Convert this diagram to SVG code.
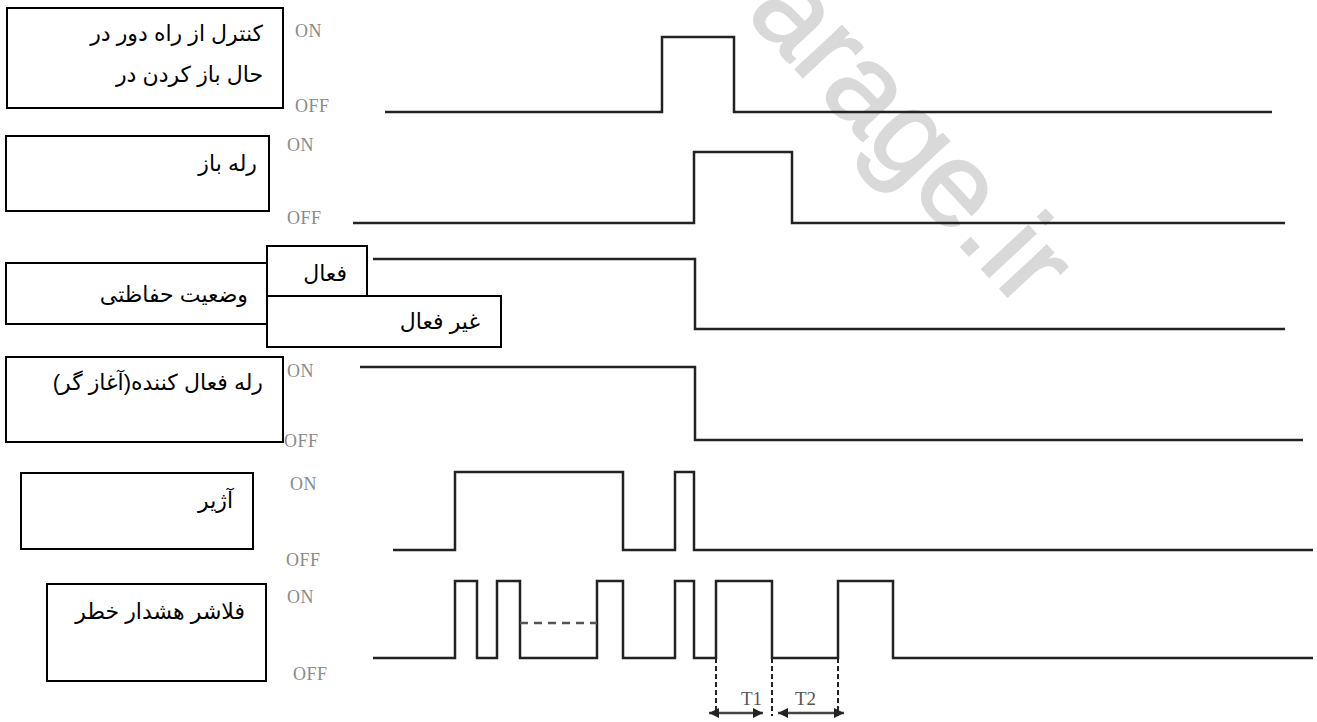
<svg xmlns="http://www.w3.org/2000/svg" width="1317" height="722" viewBox="0 0 1317 722">
<style>
.box{fill:#fff;stroke:#000;stroke-width:2}
.fa{font-family:"Liberation Sans","DejaVu Sans",sans-serif;font-size:22px;fill:#000;text-anchor:end}
.lv{font-family:"Liberation Serif","DejaVu Serif",serif;font-size:18px;letter-spacing:0.5px;fill:#8a8a8a}
.wave{fill:none;stroke:#222;stroke-width:2.5;stroke-linejoin:miter}
.dash{fill:none;stroke:#555;stroke-width:2.5;stroke-dasharray:8 6}
.vdash{fill:none;stroke:#222;stroke-width:2;stroke-dasharray:5 3}
.arr{fill:none;stroke:#444;stroke-width:2.5;marker-start:url(#ah);marker-end:url(#ah)}
.tl{font-family:"Liberation Serif","DejaVu Serif",serif;font-size:19px;fill:#555}
.wm{font-family:"Liberation Sans","DejaVu Sans",sans-serif;font-size:120px;fill:#d9d9d9;stroke:#d9d9d9;stroke-width:2;text-anchor:end}
</style>
<defs>
<marker id="ah" viewBox="0 0 10 10" refX="10" refY="5" markerWidth="5" markerHeight="4" orient="auto-start-reverse" markerUnits="strokeWidth">
<path d="M0,0 L10,5 L0,10 Z" fill="#222"/>
</marker>
</defs>
<rect width="1317" height="722" fill="#fff"/>
<text class="wm" x="1022" y="312" transform="rotate(47 1022 312)">arage.ir</text>

<g id="waveforms">
<path class="wave" d="M385,112 H662 V37 H734 V112 H1272"/>
<path class="wave" d="M353,223 H694 V152 H792 V223 H1285"/>
<path class="wave" d="M373,259 H695 V329 H1285"/>
<path class="wave" d="M360,367 H695 V440 H1303"/>
<path class="wave" d="M393,550 H455 V472 H623 V550 H675 V472 H694 V550 H1313"/>
<path class="wave" d="M373,658 H455 V581 H477 V658 H497 V581 H520 V658 H597 V581 H623 V658 H675 V581 H694 V658 H716 V581 H772 V658 H838 V581 H893 V658 H1313"/>
<path class="dash" d="M520,623 H597"/>
</g>

<g id="levels">
<text class="lv" x="295" y="37">ON</text>
<text class="lv" x="295" y="112">OFF</text>
<text class="lv" x="287" y="151">ON</text>
<text class="lv" x="287" y="224">OFF</text>
<text class="lv" x="287" y="377">ON</text>
<text class="lv" x="284" y="447">OFF</text>
<text class="lv" x="290" y="490">ON</text>
<text class="lv" x="286" y="566">OFF</text>
<text class="lv" x="287" y="603">ON</text>
<text class="lv" x="293" y="680">OFF</text>
</g>

<g id="connectors">
<path class="vdash" d="M716,658 V716"/>
<path class="vdash" d="M772,658 V716"/>
<path class="vdash" d="M838,658 V716"/>
<path class="arr" d="M709,713 H763"/>
<path class="arr" d="M778,713 H844"/>
<text class="tl" x="741" y="705">T1</text>
<text class="tl" x="795" y="705">T2</text>
</g>

<g id="node-remote">
<rect class="box" x="7" y="8" width="276" height="100"/>
<text class="fa" x="263" y="41">کنترل از راه دور در</text>
<text class="fa" x="263" y="82">حال باز کردن در</text>
</g>
<g id="node-open-relay">
<rect class="box" x="6" y="136" width="263" height="75"/>
<text class="fa" x="257" y="171">رله باز</text>
</g>
<g id="node-protection">
<rect class="box" x="6" y="263" width="270" height="61"/>
<text class="fa" x="248" y="302">وضعیت حفاظتی</text>
</g>
<g id="node-active">
<rect class="box" x="267" y="246" width="100" height="50"/>
<text class="fa" x="347" y="281">فعال</text>
</g>
<g id="node-inactive">
<rect class="box" x="267" y="296" width="234" height="51"/>
<text class="fa" x="480" y="329">غیر فعال</text>
</g>
<g id="node-trigger-relay">
<rect class="box" x="6" y="357" width="277" height="85"/>
<text class="fa" x="263" y="390">رله فعال کننده(آغاز گر)&#x200F;</text>
</g>
<g id="node-siren">
<rect class="box" x="21" y="473" width="232" height="76"/>
<text class="fa" x="233" y="508">آژیر</text>
</g>
<g id="node-flasher">
<rect class="box" x="47" y="584" width="219" height="97"/>
<text class="fa" x="245" y="619">فلاشر هشدار خطر</text>
</g>
</svg>
